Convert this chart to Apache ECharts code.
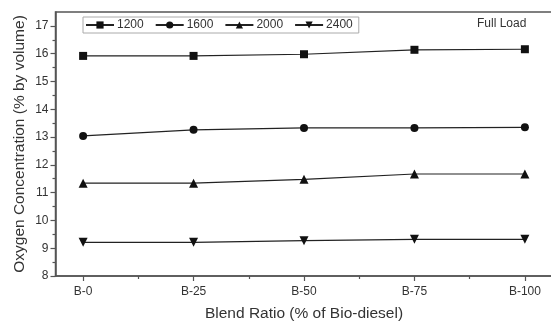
<!DOCTYPE html>
<html>
<head>
<meta charset="utf-8">
<script src="https://cdn.jsdelivr.net/npm/echarts@6/dist/echarts.min.js"></script>
<style>
  html, body { margin: 0; padding: 0; background: #fff; }
  #main { width: 551px; height: 323px; }
</style>
</head>
<body>
<div id="main"></div>
<script>
// blend ratios on the x axis
var categories = ['B-0', 'B-25', 'B-50', 'B-75', 'B-100'];
var seriesNames = ['1200', '1600', '2000', '2400'];
// oxygen concentration (% by volume)
var o2_1200 = [15.92, 15.92, 15.98, 16.14, 16.16];
var o2_1600 = [13.04, 13.26, 13.33, 13.33, 13.35];
var o2_2000 = [11.34, 11.34, 11.48, 11.67, 11.67];
var o2_2400 = [9.21, 9.21, 9.27, 9.32, 9.32];
var yTicks = [8, 9, 10, 11, 12, 13, 14, 15, 16, 17];
var yMinorTicks = [8.5, 9.5, 10.5, 11.5, 12.5, 13.5, 14.5, 15.5, 16.5];

var dom = document.getElementById('main');
var myChart = echarts.init(dom);

var FONT = 'Liberation Sans, Arial, sans-serif';
var AXIS = '#555';
var TXT = '#333';

function pairs(vals) {
    var out = [];
    for (var i = 0; i < vals.length; i++) {
        out.push([i, vals[i]]);
    }
    return out;
}

var symbols = ['rect', 'circle', 'triangle', 'triangle'];
var rotates = [0, 0, 0, 180];
var sizes = [8, 8, 9, 9];
var allData = [o2_1200, o2_1600, o2_2000, o2_2400];

var series = [];
for (var s = 0; s < allData.length; s++) {
    series.push({
        name: seriesNames[s],
        type: 'line',
        xAxisIndex: 0,
        yAxisIndex: 0,
        data: pairs(allData[s]),
        symbol: symbols[s],
        symbolSize: sizes[s],
        symbolRotate: rotates[s],
        showAllSymbol: true,
        lineStyle: { color: '#222', width: 1.2 },
        itemStyle: { color: '#111' },
        emphasis: { disabled: true },
        animation: false
    });
}

var option = {
    backgroundColor: '#fff',
    animation: false,
    grid: {
        left: 55.5,
        right: -1.5,
        top: 12,
        bottom: 47,
        outerBoundsMode: 'none',
        containLabel: false,
        show: true,
        borderColor: AXIS,
        borderWidth: 1.5,
        backgroundColor: 'transparent'
    },
    title: {
        text: 'Full Load',
        left: 477,
        top: 18,
        padding: 0,
        textStyle: { fontFamily: FONT, fontSize: 12, fontWeight: 'normal', color: TXT }
    },
    legend: {
        data: seriesNames,
        left: 83,
        top: 17,
        orient: 'horizontal',
        padding: [2, 6, 2, 2],
        itemGap: 11,
        itemWidth: 28,
        itemHeight: 9,
        borderColor: '#aaa',
        borderWidth: 1,
        textStyle: { fontFamily: FONT, fontSize: 12, color: TXT, padding: [0, 0, 0, -2] }
    },
    xAxis: [
        {
            type: 'value',
            min: -0.25,
            max: 4.25,
            splitLine: { show: false },
            axisLine: { show: true, onZero: false, lineStyle: { color: AXIS, width: 1.5 } },
            axisTick: { show: true, customValues: [0, 1, 2, 3, 4], length: 5, lineStyle: { color: AXIS, width: 1.2 } },
            axisLabel: {
                customValues: [0, 1, 2, 3, 4],
                margin: 10,
                fontFamily: FONT,
                fontSize: 12,
                color: TXT,
                formatter: function (v) {
                    return categories[Math.round(v)];
                }
            },
            name: 'Blend Ratio (% of Bio-diesel)',
            nameLocation: 'middle',
            nameGap: 30,
            nameMoveOverlap: false,
            nameTextStyle: { fontFamily: FONT, fontSize: 15.5, color: TXT }
        },
        {
            // minor ticks between categories
            type: 'value',
            min: -0.25,
            max: 4.25,
            position: 'bottom',
            offset: 0,
            splitLine: { show: false },
            axisLine: { show: false, onZero: false },
            axisTick: { show: true, customValues: [0.5, 1.5, 2.5, 3.5], length: 3, lineStyle: { color: AXIS, width: 1.2 } },
            axisLabel: { show: false }
        }
    ],
    yAxis: [
        {
            type: 'value',
            min: 8,
            max: 17.5,
            splitLine: { show: false },
            axisLine: { show: true, onZero: false, lineStyle: { color: AXIS, width: 1.5 } },
            axisTick: { show: true, customValues: yTicks, length: 5, lineStyle: { color: AXIS, width: 1.2 } },
            axisLabel: {
                customValues: yTicks,
                margin: 7,
                fontFamily: FONT,
                fontSize: 12,
                color: TXT
            },
            name: 'Oxygen Concentration (% by volume)',
            nameLocation: 'middle',
            nameGap: 28,
            nameMoveOverlap: false,
            nameRotate: 90,
            nameTextStyle: { fontFamily: FONT, fontSize: 15.5, color: TXT }
        },
        {
            // minor ticks
            type: 'value',
            min: 8,
            max: 17.5,
            position: 'left',
            offset: 0,
            splitLine: { show: false },
            axisLine: { show: false, onZero: false },
            axisTick: { show: true, customValues: yMinorTicks, length: 3, lineStyle: { color: AXIS, width: 1.2 } },
            axisLabel: { show: false }
        }
    ],
    series: series
};

myChart.setOption(option);

window.addEventListener('resize', function () {
    myChart.resize();
});
</script>
</body>
</html>
